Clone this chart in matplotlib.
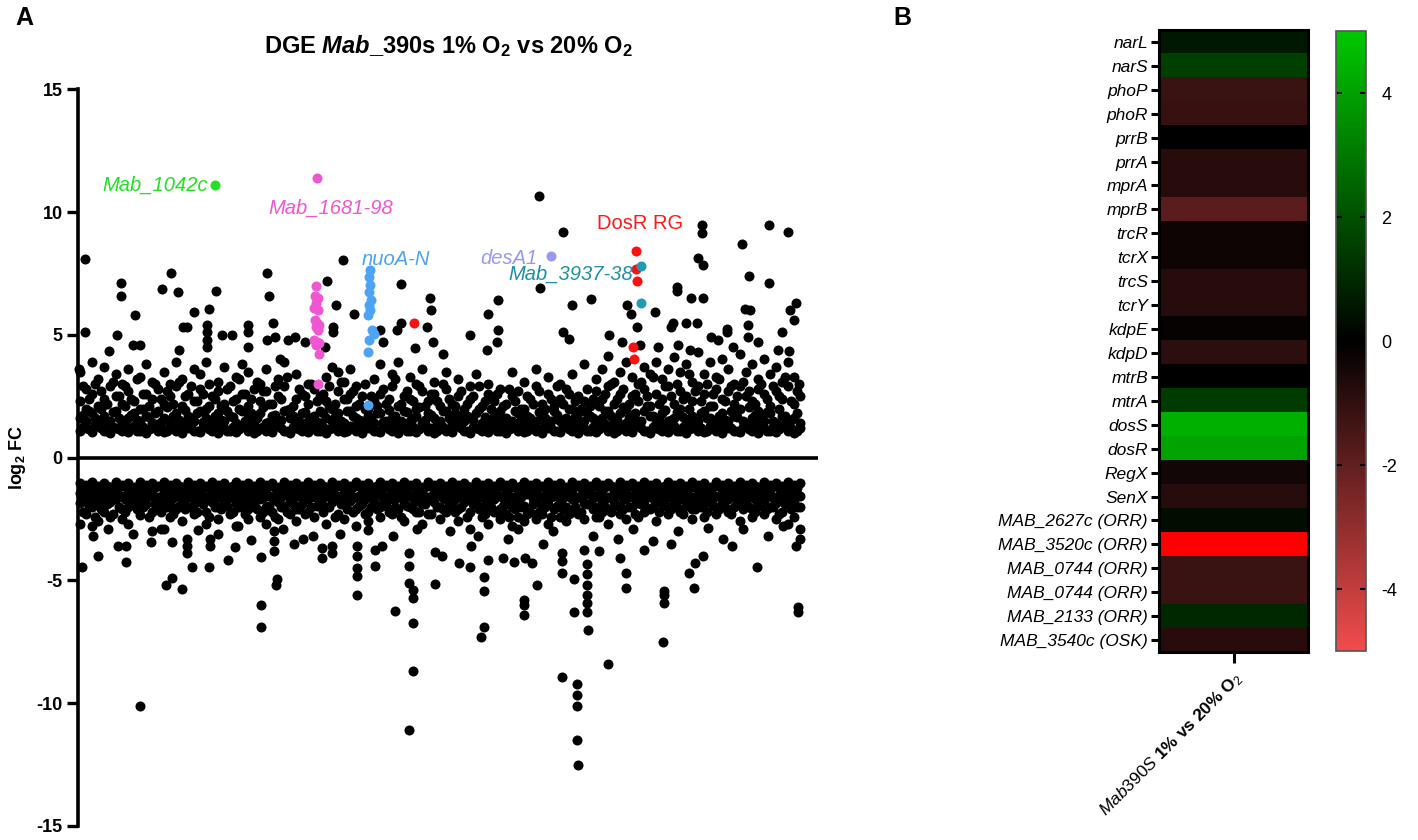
import matplotlib
matplotlib.use("Agg")
import matplotlib.pyplot as plt
from matplotlib.colors import LinearSegmentedColormap
import numpy as np

plt.rcParams['font.family'] = ['Liberation Sans', 'DejaVu Sans']
plt.rcParams['mathtext.fontset'] = 'custom'
plt.rcParams['mathtext.rm'] = 'Liberation Sans'
plt.rcParams['mathtext.it'] = 'Liberation Sans:italic'
plt.rcParams['mathtext.bf'] = 'Liberation Sans:bold'
plt.rcParams['mathtext.bfit'] = 'Liberation Sans:bold:italic'

# ---------------- panel A data (position along genome, log2 FC) ----------------
# dense band of up-regulated genes: (position, [log2FC values])
up_band = [
    (2, [1.1, 1.6, 2.3, 3.5]), (8, [1.2, 1.5, 2.0, 2.8]), (14, [1.05, 1.8, 2.6, 3.9]),
    (20, [1.3, 1.4, 2.1, 3.2]), (26, [1.1, 1.7, 2.4, 3.7]), (32, [1.0, 1.5, 2.9]),
    (38, [1.2, 1.9, 2.5, 3.4]), (44, [1.1, 1.4, 2.2, 3.0]), (50, [1.05, 1.6, 2.7, 3.6]),
    (56, [1.3, 1.8, 2.3]), (62, [1.1, 1.5, 2.0, 3.3]), (68, [1.0, 1.7, 2.6, 3.8]),
    (74, [1.2, 1.4, 2.4, 3.1]), (80, [1.1, 1.9, 2.8]), (86, [1.05, 1.6, 2.2, 3.5]),
    (92, [1.3, 1.5, 2.5, 3.0]), (98, [1.1, 1.8, 2.9, 3.9]), (104, [1.0, 1.4, 2.1, 3.2]),
    (110, [1.2, 1.7, 2.6]), (116, [1.1, 1.5, 2.3, 3.6]), (122, [1.05, 1.9, 2.8, 3.4]),
    (128, [1.3, 1.6, 2.0, 3.9]), (134, [1.1, 1.4, 2.5]), (140, [1.0, 1.8, 2.7, 3.1]),
    (146, [1.2, 1.5, 2.2, 3.7]), (152, [1.1, 1.7, 2.9]), (158, [1.05, 1.4, 2.4, 3.3]),
    (164, [1.3, 1.9, 2.6, 3.8]), (170, [1.1, 1.6, 2.1, 3.5]), (176, [1.0, 1.5, 2.8]),
    (182, [1.2, 1.8, 2.3, 3.0]), (188, [1.1, 1.4, 2.7, 3.6]), (194, [1.05, 1.7, 2.2]),
    (200, [1.3, 1.5, 2.5, 3.2]), (206, [1.1, 1.9, 2.9, 3.9]), (212, [1.0, 1.6, 2.0]),
    (218, [1.2, 1.4, 2.4, 3.4]), (224, [1.1, 1.8, 2.6]), (230, [1.05, 1.5, 2.2, 3.0]),
    (236, [1.3, 1.7, 2.8]), (242, [1.1, 1.4, 1.9, 2.5]), (248, [1.0, 1.6, 2.3, 3.3]),
    (254, [1.2, 1.5, 2.0, 3.7]), (260, [1.1, 1.8, 2.7, 3.5]), (266, [1.05, 1.4, 2.4, 3.1]),
    (272, [1.3, 1.9, 2.6, 3.6]), (278, [1.1, 1.6, 2.1, 2.9]), (284, [1.0, 1.5, 2.5]),
    (290, [1.2, 1.7, 2.0]), (296, [1.1, 1.4, 2.3, 3.2]), (302, [1.05, 1.8, 2.6, 3.8]),
    (308, [1.3, 1.5, 2.2]), (314, [1.1, 1.6, 2.9, 3.4]), (320, [1.0, 1.4, 2.1, 3.9]),
    (326, [1.2, 1.9, 2.5]), (332, [1.1, 1.5, 2.4, 3.3]), (338, [1.05, 1.7, 2.0, 3.0]),
    (344, [1.3, 1.4, 2.7, 3.6]), (350, [1.1, 1.8, 2.3]), (356, [1.0, 1.6, 2.6, 3.1]),
    (362, [1.2, 1.5, 2.1]), (368, [1.1, 1.9, 2.8, 3.5]), (374, [1.05, 1.4, 2.2]),
    (380, [1.3, 1.7, 2.5, 3.2]), (386, [1.1, 1.5, 2.0]), (392, [1.0, 1.6, 2.4, 2.9]),
    (398, [1.2, 1.8, 3.4]), (404, [1.1, 1.4, 2.1]), (410, [1.05, 1.5, 2.6, 3.0]),
    (416, [1.3, 1.7, 2.3]), (422, [1.1, 1.4, 1.9, 2.8]), (428, [1.0, 1.6, 2.2]),
    (434, [1.2, 1.5, 2.5, 3.5]), (440, [1.1, 1.8, 2.7]), (446, [1.05, 1.4, 2.0, 3.1]),
    (452, [1.3, 1.6, 2.4]), (458, [1.1, 1.5, 2.9, 3.6]), (464, [1.0, 1.7, 2.2]),
    (470, [1.2, 1.4, 2.6, 3.3]), (476, [1.1, 1.9, 2.1]), (482, [1.05, 1.5, 2.4, 3.0]),
    (488, [1.3, 1.6, 2.8]), (494, [1.1, 1.4, 2.0, 3.4]), (500, [1.0, 1.8, 2.5]),
    (506, [1.2, 1.5, 2.3, 3.8]), (512, [1.1, 1.7, 2.1]), (518, [1.05, 1.4, 2.7, 3.2]),
    (524, [1.3, 1.6, 2.4, 3.6]), (530, [1.1, 1.9, 2.9]), (536, [1.0, 1.5, 2.2, 3.1]),
    (542, [1.2, 1.8, 2.6, 3.5]), (548, [1.1, 1.4, 2.0, 3.9]), (554, [1.05, 1.6, 2.5, 3.3]),
    (560, [1.3, 1.5, 2.3, 3.0]), (566, [1.1, 1.9, 2.8, 3.7]), (572, [1.0, 1.7, 2.1, 3.4]),
    (578, [1.2, 1.4, 2.6, 3.9]), (584, [1.1, 1.8, 2.4, 3.2]), (590, [1.05, 1.5, 2.9, 3.6]),
    (596, [1.3, 1.6, 2.2, 4.1]), (602, [1.1, 2.0, 2.7, 3.5]), (608, [1.0, 1.4, 2.5, 3.8]),
    (614, [1.2, 1.7, 2.3, 3.1]), (620, [1.1, 1.5, 2.9, 4.3]), (626, [1.05, 1.9, 2.6, 3.4]),
    (632, [1.3, 1.6, 2.1, 3.9]), (638, [1.1, 1.4, 2.8, 3.3]), (644, [1.0, 1.8, 2.4, 4.0]),
    (650, [1.2, 1.5, 2.7, 3.6]), (656, [1.1, 1.7, 2.2, 3.0]), (662, [1.05, 2.0, 2.9, 4.2]),
    (668, [1.3, 1.4, 2.5, 3.5]), (674, [1.1, 1.6, 2.3, 3.8]), (680, [1.0, 1.9, 2.8, 3.2]),
    (686, [1.2, 1.5, 2.6, 4.0]), (692, [1.1, 1.8, 2.1, 3.4]), (698, [1.05, 1.4, 2.7, 3.7]),
    (704, [1.3, 1.7, 2.4, 3.1]), (710, [1.1, 1.5, 2.9, 3.9]), (716, [1.0, 1.6, 2.2, 3.3]),
    (722, [1.2, 1.4, 2.5]),
]

# second row of columns between the first ones (densest part of the band)
up_band2 = [
    (5, [1.25, 1.75, 2.9]), (11, [1.15, 1.9, 2.4]), (17, [1.35, 1.6, 3.0]), (23, [1.2, 2.0, 2.7]),
    (29, [1.1, 1.45, 2.2]), (35, [1.25, 1.85, 3.1]), (41, [1.15, 1.6, 2.5]), (47, [1.35, 2.1, 2.9]),
    (53, [1.2, 1.75, 2.4]), (59, [1.1, 1.55, 3.2]), (65, [1.25, 2.0, 2.6]), (71, [1.15, 1.65, 2.1]),
    (77, [1.35, 1.8, 3.0]), (83, [1.2, 1.45, 2.4]), (89, [1.1, 2.05, 2.7]), (95, [1.25, 1.7, 2.2]),
    (101, [1.15, 1.55, 3.1]), (107, [1.35, 1.95, 2.5]), (113, [1.2, 1.6, 2.9]), (119, [1.1, 1.8, 2.3]),
    (125, [1.25, 1.45, 2.6]), (131, [1.15, 2.1, 3.0]), (137, [1.35, 1.7, 2.4]), (143, [1.2, 1.55, 2.1]),
    (149, [1.1, 1.9, 2.8]), (155, [1.25, 1.65, 2.3]), (161, [1.15, 2.0, 3.2]), (167, [1.35, 1.5, 2.6]),
    (173, [1.2, 1.8, 2.4]), (179, [1.1, 1.6, 3.1]), (185, [1.25, 2.05, 2.7]), (191, [1.15, 1.45, 2.2]),
    (197, [1.35, 1.75, 2.9]), (203, [1.2, 1.55, 2.4]), (209, [1.1, 1.95, 3.3]), (215, [1.25, 1.7, 2.1]),
    (221, [1.15, 1.5, 2.8]), (227, [1.35, 1.85, 2.5]), (233, [1.2, 1.6, 3.0]), (239, [1.1, 1.45, 2.3]),
    (245, [1.25, 1.8, 2.6]), (251, [1.15, 2.1, 2.9]), (257, [1.35, 1.65, 2.2]), (263, [1.2, 1.5, 3.1]),
    (269, [1.1, 1.9, 2.4]), (275, [1.25, 1.7, 2.7]), (281, [1.15, 1.55, 2.2]), (287, [1.35, 2.0, 3.0]),
    (293, [1.2, 1.6, 2.5]), (299, [1.1, 1.8, 2.1]), (305, [1.25, 1.45, 2.8]), (311, [1.15, 1.95, 2.4]),
    (317, [1.35, 1.7, 3.2]), (323, [1.2, 1.5, 2.2]), (329, [1.1, 1.85, 2.7]), (335, [1.25, 1.6, 2.3]),
    (341, [1.15, 2.05, 2.9]), (347, [1.35, 1.55, 2.1]), (353, [1.2, 1.75, 2.6]), (359, [1.1, 1.45, 2.3]),
    (365, [1.25, 1.9, 3.0]), (371, [1.15, 1.6, 2.4]), (377, [1.35, 1.8, 2.1]), (383, [1.2, 1.5, 2.7]),
    (389, [1.1, 1.7, 2.2]), (395, [1.25, 1.55, 2.5]), (401, [1.15, 2.0, 2.9]), (407, [1.35, 1.65, 2.3]),
    (413, [1.2, 1.45, 2.0]), (419, [1.1, 1.8, 2.6]), (425, [1.25, 1.6, 2.1]), (431, [1.15, 1.5, 2.8]),
    (437, [1.35, 1.9, 2.3]), (443, [1.2, 1.55, 2.0]), (449, [1.1, 1.7, 2.5]), (455, [1.25, 1.45, 2.2]),
    (461, [1.15, 1.85, 2.7]), (467, [1.35, 1.6, 2.0]), (473, [1.2, 1.5, 2.4]), (479, [1.1, 1.75, 2.9]),
    (485, [1.25, 1.55, 2.2]), (491, [1.15, 2.0, 2.6]), (497, [1.35, 1.65, 2.3]), (503, [1.2, 1.45, 2.0]),
    (509, [1.1, 1.8, 2.8]), (515, [1.25, 1.6, 2.4]), (521, [1.15, 1.5, 2.1]), (527, [1.35, 1.9, 2.6]),
    (533, [1.2, 1.7, 3.0]), (539, [1.1, 1.55, 2.4]), (545, [1.25, 2.05, 2.8]), (551, [1.15, 1.65, 2.2]),
    (557, [1.35, 1.8, 2.6]), (563, [1.2, 1.5, 3.1]), (569, [1.1, 2.1, 2.5]), (575, [1.25, 1.7, 3.3]),
    (581, [1.15, 1.6, 2.2]), (587, [1.35, 1.95, 2.9]), (593, [1.2, 1.55, 2.5]), (599, [1.1, 1.85, 3.0]),
    (605, [1.25, 1.65, 2.4]), (611, [1.15, 2.0, 3.4]), (617, [1.35, 1.5, 2.7]), (623, [1.2, 1.8, 2.3]),
    (629, [1.1, 1.6, 3.0]), (635, [1.25, 2.1, 2.6]), (641, [1.15, 1.7, 3.2]), (647, [1.35, 1.55, 2.3]),
    (653, [1.2, 1.9, 2.9]), (659, [1.1, 1.65, 2.5]), (665, [1.25, 1.5, 3.1]), (671, [1.15, 2.05, 2.7]),
    (677, [1.35, 1.75, 2.2]), (683, [1.2, 1.6, 3.0]), (689, [1.1, 1.85, 2.4]), (695, [1.25, 1.5, 2.9]),
    (701, [1.15, 2.0, 2.5]), (707, [1.35, 1.7, 3.3]), (713, [1.2, 1.55, 2.3]), (719, [1.1, 1.8, 2.7]),
]

# sparse up-regulated outliers
up_x = [7, 7, 1, 43, 43, 39, 57, 55, 62, 31, 93, 84, 100, 116, 131, 138, 105, 109, 101,
        129, 129, 129, 129, 144, 154, 170, 170, 170, 189, 191, 195, 189, 197, 210, 217,
        202, 227, 249, 258, 265, 276, 255, 255, 247, 323, 323, 319, 302, 305, 352, 353,
        349, 355, 365, 337, 461, 485, 462, 513, 494, 420, 410, 420, 419, 409, 392, 485,
        491, 531, 530, 549, 553, 559, 544, 562, 577, 599, 599, 613, 625, 624, 624, 620,
        625, 664, 671, 691, 710, 691, 667, 672, 718, 712, 716, 704, 711, 595, 608, 619,
        593, 633, 649, 649, 670, 670, 721, 600, 612, 640, 655, 680, 700, 580]
up_y = [8.1, 5.1, 3.6, 7.1, 6.6, 5.0, 5.8, 4.6, 4.6, 4.35, 7.5, 6.85, 6.75, 5.95, 6.05,
        6.8, 5.3, 5.3, 4.4, 5.4, 5.1, 4.8, 4.5, 5.0, 5.0, 5.4, 5.1, 4.5, 7.5, 6.6, 5.5,
        4.8, 4.9, 4.8, 4.9, 4.0, 4.7, 7.2, 6.2, 8.05, 5.85, 5.3, 5.1, 4.5, 7.07, 5.5, 5.2,
        5.2, 4.7, 6.5, 6.0, 5.3, 4.7, 4.2, 4.45, 10.65, 9.2, 6.9, 6.45, 6.2, 6.4, 5.85,
        5.2, 4.7, 4.4, 5.0, 5.1, 4.85, 5.0, 4.15, 6.2, 5.85, 5.3, 4.7, 4.6, 5.95, 6.95,
        6.8, 6.5, 6.5, 9.47, 9.15, 8.15, 7.85, 8.7, 7.4, 9.47, 9.2, 7.1, 6.05, 6.0, 6.3,
        6.0, 5.6, 5.1, 4.35, 5.5, 5.5, 5.5, 5.3, 4.9, 5.25, 5.1, 5.4, 4.9, 3.0, 4.6, 4.4,
        4.8, 4.5, 4.7, 4.4, 4.5]

# dense band of down-regulated genes
down_band = [
    (2, [-1.05, -1.45, -1.85, -2.7]), (8, [-1.1, -1.3, -1.75, -2.3]), (14, [-1.0, -1.5, -2.0, -2.8]),
    (20, [-1.15, -1.4, -1.9, -2.6]), (26, [-1.05, -1.6, -2.2]), (32, [-1.2, -1.45, -1.8, -2.4]),
    (38, [-1.0, -1.35, -1.7]), (44, [-1.1, -1.55, -2.1, -2.5]), (50, [-1.05, -1.4, -2.0, -2.7]),
    (56, [-1.2, -1.6]), (62, [-1.0, -1.3, -1.8, -2.35]), (68, [-1.1, -1.5, -1.9]),
    (74, [-1.05, -1.35, -2.2, -3.0]), (80, [-1.15, -1.6, -2.0]), (86, [-1.0, -1.4, -1.75, -2.9]),
    (92, [-1.1, -1.3, -1.9, -2.4]), (98, [-1.05, -1.5, -2.1]), (104, [-1.2, -1.45, -1.8, -2.6]),
    (110, [-1.0, -1.35, -2.0]), (116, [-1.1, -1.55, -1.9, -2.3]), (122, [-1.05, -1.4, -1.7]),
    (128, [-1.15, -1.6, -2.2, -2.7]), (134, [-1.0, -1.3, -1.8]), (140, [-1.1, -1.5, -2.0, -2.5]),
    (146, [-1.05, -1.45, -1.75]), (152, [-1.2, -1.6, -2.3]), (158, [-1.0, -1.35, -1.9, -2.8]),
    (164, [-1.1, -1.5, -1.85]), (170, [-1.05, -1.4, -2.1, -2.5]), (176, [-1.15, -1.55, -1.9]),
    (182, [-1.0, -1.3, -1.7, -2.4]), (188, [-1.1, -1.45, -2.0, -2.7]), (194, [-1.05, -1.6, -2.2]),
    (200, [-1.2, -1.4, -1.8, -2.5]), (206, [-1.0, -1.5, -1.95]), (212, [-1.1, -1.35, -1.75, -2.3]),
    (218, [-1.05, -1.55, -2.1, -2.6]), (224, [-1.15, -1.45, -1.9]), (230, [-1.0, -1.3, -1.7, -2.2]),
    (236, [-1.1, -1.6, -2.4]), (242, [-1.05, -1.4, -1.85]), (248, [-1.2, -1.5, -2.0, -2.7]),
    (254, [-1.0, -1.35, -1.8]), (260, [-1.1, -1.55, -2.3]), (266, [-1.05, -1.45, -1.9, -2.5]),
    (272, [-1.15, -1.3, -1.75]), (278, [-1.0, -1.6, -2.1, -2.8]), (284, [-1.1, -1.4, -1.9]),
    (290, [-1.05, -1.5, -2.2, -2.6]), (296, [-1.2, -1.35, -1.8]), (302, [-1.0, -1.45, -2.0, -2.4]),
    (308, [-1.1, -1.6, -1.95]), (314, [-1.05, -1.3, -1.7, -2.3]), (320, [-1.15, -1.5, -2.1]),
    (326, [-1.0, -1.4, -1.85, -2.6]), (332, [-1.1, -1.55, -2.0]), (338, [-1.05, -1.35, -1.75, -2.2]),
    (344, [-1.2, -1.45, -1.9, -2.7]), (350, [-1.0, -1.6, -2.3]), (356, [-1.1, -1.4, -1.8]),
    (362, [-1.05, -1.5, -2.0, -2.5]), (368, [-1.15, -1.3, -1.7, -2.2]), (374, [-1.0, -1.45, -1.9]),
    (380, [-1.1, -1.55, -2.1, -2.6]), (386, [-1.05, -1.4, -1.8]), (392, [-1.2, -1.6, -2.2, -2.9]),
    (398, [-1.0, -1.35, -1.75]), (404, [-1.1, -1.5, -2.0, -2.4]), (410, [-1.05, -1.45, -1.9, -2.7]),
    (416, [-1.15, -1.3, -1.7, -2.2]), (422, [-1.0, -1.55, -2.1, -2.5]), (428, [-1.1, -1.4, -1.85, -2.3]),
    (434, [-1.05, -1.6, -2.0, -2.8]), (440, [-1.2, -1.35, -1.8, -2.4]), (446, [-1.0, -1.5, -1.95, -2.6]),
    (452, [-1.1, -1.45, -2.2]), (458, [-1.05, -1.3, -1.75, -2.5]), (464, [-1.15, -1.6, -2.0, -2.3]),
    (470, [-1.0, -1.4, -1.9, -2.7]), (476, [-1.1, -1.55, -2.1]), (482, [-1.05, -1.35, -1.8, -2.4]),
    (488, [-1.2, -1.5, -2.0, -2.6]), (494, [-1.0, -1.45, -1.7, -2.2]), (500, [-1.1, -1.6, -2.3]),
    (506, [-1.05, -1.3, -1.85, -2.5]), (512, [-1.15, -1.4, -1.9]), (518, [-1.0, -1.55, -2.0, -2.4]),
    (524, [-1.1, -1.45, -1.75, -2.2]), (530, [-1.05, -1.6, -2.1, -2.7]), (536, [-1.2, -1.35, -1.8]),
    (542, [-1.0, -1.5, -1.95, -2.3]), (548, [-1.1, -1.4, -1.7, -2.5]), (554, [-1.05, -1.55, -2.0]),
    (560, [-1.15, -1.3, -1.85, -2.4]), (566, [-1.0, -1.45, -1.9, -2.2]), (572, [-1.1, -1.6, -2.1]),
    (578, [-1.05, -1.35, -1.75, -2.6]), (584, [-1.2, -1.5, -1.9]), (590, [-1.0, -1.4, -2.0, -2.3]),
    (596, [-1.1, -1.55, -1.8]), (602, [-1.05, -1.3, -1.7, -2.2]), (608, [-1.15, -1.45, -1.95]),
    (614, [-1.0, -1.6, -2.1, -2.5]), (620, [-1.1, -1.35, -1.8]), (626, [-1.05, -1.5, -1.9, -2.4]),
    (632, [-1.2, -1.4, -1.75]), (638, [-1.0, -1.55, -2.0, -2.3]), (644, [-1.1, -1.45, -1.85]),
    (650, [-1.05, -1.3, -1.7, -2.2]), (656, [-1.15, -1.6, -2.0]), (662, [-1.0, -1.4, -1.9, -2.6]),
    (668, [-1.1, -1.5, -1.8]), (674, [-1.05, -1.35, -2.1, -2.4]), (680, [-1.2, -1.55, -1.9]),
    (686, [-1.0, -1.45, -1.75, -2.3]), (692, [-1.1, -1.3, -2.0]), (698, [-1.05, -1.6, -1.85, -2.5]),
    (704, [-1.15, -1.4, -2.2]), (710, [-1.0, -1.5, -1.9, -2.7]), (716, [-1.1, -1.35, -1.8, -2.4]),
    (722, [-1.05, -1.55, -2.0, -2.9]),
]

down_band2 = [
    (5, [-1.2, -1.6, -2.2]), (11, [-1.15, -1.55, -1.95]), (17, [-1.25, -1.7, -2.4]), (23, [-1.2, -1.6, -2.1]),
    (29, [-1.15, -1.5, -1.9]), (35, [-1.25, -1.65, -2.3]), (41, [-1.2, -1.55, -2.0]), (47, [-1.15, -1.7, -2.2]),
    (53, [-1.25, -1.6, -1.85]), (59, [-1.2, -1.5, -2.1]), (65, [-1.15, -1.65, -2.0]), (71, [-1.25, -1.55, -2.4]),
    (77, [-1.2, -1.7, -1.9]), (83, [-1.15, -1.6, -2.2]), (89, [-1.25, -1.5, -2.0]), (95, [-1.2, -1.65, -2.3]),
    (101, [-1.15, -1.55, -1.95]), (107, [-1.25, -1.7, -2.1]), (113, [-1.2, -1.6, -2.0]), (119, [-1.15, -1.5, -2.2]),
    (125, [-1.25, -1.65, -1.9]), (131, [-1.2, -1.55, -2.4]), (137, [-1.15, -1.7, -2.0]), (143, [-1.25, -1.6, -2.1]),
    (149, [-1.2, -1.5, -1.95]), (155, [-1.15, -1.65, -2.2]), (161, [-1.25, -1.55, -2.0]), (167, [-1.2, -1.7, -2.3]),
    (173, [-1.15, -1.6, -1.9]), (179, [-1.25, -1.5, -2.1]), (185, [-1.2, -1.65, -2.2]), (191, [-1.15, -1.55, -1.95]),
    (197, [-1.25, -1.7, -2.4]), (203, [-1.2, -1.6, -2.0]), (209, [-1.15, -1.5, -2.2]), (215, [-1.25, -1.65, -1.9]),
    (221, [-1.2, -1.55, -2.1]), (227, [-1.15, -1.7, -2.3]), (233, [-1.25, -1.6, -2.0]), (239, [-1.2, -1.5, -1.95]),
    (245, [-1.15, -1.65, -2.2]), (251, [-1.25, -1.55, -2.0]), (257, [-1.2, -1.7, -2.4]), (263, [-1.15, -1.6, -1.9]),
    (269, [-1.25, -1.5, -2.1]), (275, [-1.2, -1.65, -2.2]), (281, [-1.15, -1.55, -1.95]), (287, [-1.25, -1.7, -2.3]),
    (293, [-1.2, -1.6, -2.0]), (299, [-1.15, -1.5, -2.1]), (305, [-1.25, -1.65, -1.9]), (311, [-1.2, -1.55, -2.2]),
    (317, [-1.15, -1.7, -2.0]), (323, [-1.25, -1.6, -2.4]), (329, [-1.2, -1.5, -1.95]), (335, [-1.15, -1.65, -2.1]),
    (341, [-1.25, -1.55, -2.2]), (347, [-1.2, -1.7, -1.9]), (353, [-1.15, -1.6, -2.3]), (359, [-1.25, -1.5, -2.0]),
    (365, [-1.2, -1.65, -2.1]), (371, [-1.15, -1.55, -1.95]), (377, [-1.25, -1.7, -2.2]), (383, [-1.2, -1.6, -2.0]),
    (389, [-1.15, -1.5, -2.4]), (395, [-1.25, -1.65, -1.9]), (401, [-1.2, -1.55, -2.1]), (407, [-1.15, -1.7, -2.3]),
    (413, [-1.25, -1.6, -2.0]), (419, [-1.2, -1.5, -2.2]), (425, [-1.15, -1.65, -1.95]), (431, [-1.25, -1.55, -2.4]),
    (437, [-1.2, -1.7, -2.1]), (443, [-1.15, -1.6, -2.0]), (449, [-1.25, -1.5, -2.3]), (455, [-1.2, -1.65, -1.9]),
    (461, [-1.15, -1.55, -2.2]), (467, [-1.25, -1.7, -2.0]), (473, [-1.2, -1.6, -2.4]), (479, [-1.15, -1.5, -1.95]),
    (485, [-1.25, -1.65, -2.1]), (491, [-1.2, -1.55, -2.3]), (497, [-1.15, -1.7, -2.0]), (503, [-1.25, -1.6, -2.2]),
    (509, [-1.2, -1.5, -1.9]), (515, [-1.15, -1.65, -2.1]), (521, [-1.25, -1.55, -2.4]), (527, [-1.2, -1.7, -2.0]),
    (533, [-1.15, -1.6, -2.2]), (539, [-1.25, -1.5, -1.95]), (545, [-1.2, -1.65, -2.1]), (551, [-1.15, -1.55, -2.0]),
    (557, [-1.25, -1.7, -2.3]), (563, [-1.2, -1.6, -1.9]), (569, [-1.15, -1.5, -2.1]), (575, [-1.25, -1.65, -2.0]),
    (581, [-1.2, -1.55, -2.2]), (587, [-1.15, -1.7, -1.95]), (593, [-1.25, -1.6, -2.1]), (599, [-1.2, -1.5, -2.0]),
    (605, [-1.15, -1.65, -2.3]), (611, [-1.25, -1.55, -1.9]), (617, [-1.2, -1.7, -2.1]), (623, [-1.15, -1.6, -2.0]),
    (629, [-1.25, -1.5, -2.2]), (635, [-1.2, -1.65, -1.95]), (641, [-1.15, -1.55, -2.1]), (647, [-1.25, -1.7, -2.0]),
    (653, [-1.2, -1.6, -2.3]), (659, [-1.15, -1.5, -1.9]), (665, [-1.25, -1.65, -2.1]), (671, [-1.2, -1.55, -2.0]),
    (677, [-1.15, -1.7, -2.2]), (683, [-1.25, -1.6, -1.95]), (689, [-1.2, -1.5, -2.1]), (695, [-1.15, -1.65, -2.0]),
    (701, [-1.25, -1.55, -2.3]), (707, [-1.2, -1.7, -1.9]), (713, [-1.15, -1.6, -2.1]), (719, [-1.25, -1.5, -2.0]),
]

# sparse down-regulated outliers
down_x = [4, 20, 15, 40, 48, 48, 62, 88, 94, 104, 73, 94, 114, 131, 109, 109, 109, 132, 132,
          150, 157, 173, 183, 183, 183, 199, 198, 196, 196, 196, 216, 235, 244, 244, 254, 254,
          279, 279, 279, 279, 279, 297, 297, 304, 317, 331, 335, 335, 335, 335, 331, 331, 331,
          339, 357, 357, 364, 381, 392, 393, 406, 406, 406, 403, 410, 425, 436, 447, 454, 446,
          446, 446, 459, 484, 484, 484, 484, 496, 496, 499, 499, 499, 499, 500, 509, 509, 509,
          509, 509, 509, 510, 506, 521, 530, 542, 548, 548, 566, 586, 586, 586, 585, 593, 611,
          617, 625, 616, 679, 720, 720, 654, 718,
          30, 55, 83, 120, 140, 160, 205, 225, 262, 290, 315, 372, 400, 430, 440, 465, 475,
          515, 540, 555, 575, 600, 630, 645, 665, 690, 705, 722]
down_y = [-4.47, -4.0, -3.2, -3.6, -3.6, -4.25, -10.1, -5.2, -4.9, -5.35, -3.45, -3.45, -4.45,
          -4.45, -3.3, -3.6, -3.9, -3.3, -3.6, -4.15, -3.65, -3.35, -4.05, -6.0, -6.9, -4.95,
          -5.2, -3.0, -3.4, -3.8, -3.5, -3.2, -3.7, -4.1, -3.6, -3.9, -3.6, -4.0, -4.5, -4.8,
          -5.6, -3.75, -4.4, -3.6, -6.25, -11.1, -8.7, -6.75, -5.7, -5.4, -5.1, -4.4, -3.9,
          -2.9, -5.15, -3.85, -4.0, -4.3, -4.45, -3.6, -4.85, -5.45, -6.9, -7.3, -4.15, -4.1,
          -4.25, -4.1, -4.3, -5.8, -6.0, -6.4, -5.2, -3.9, -4.2, -4.7, -8.95, -4.95, -6.3,
          -9.2, -9.65, -10.1, -11.5, -12.5, -4.35, -4.75, -5.2, -5.6, -5.9, -6.3, -7.0, -3.75,
          -3.8, -8.4, -4.1, -4.7, -5.3, -3.75, -5.45, -5.6, -5.9, -7.5, -3.5, -4.7, -4.3,
          -4.0, -5.3, -4.45, -6.1, -6.3, -3.6, -3.6,
          -2.9, -3.1, -2.9, -2.95, -3.1, -2.8, -2.9, -3.3, -3.1, -2.95, -3.2, -3.0, -3.2,
          -3.3, -2.9, -3.5, -3.0, -3.2, -3.3, -2.9, -3.4, -3.0, -2.85, -3.3, -2.9, -3.2,
          -2.8, -3.3]

# highlighted gene groups
mab1681_x = [239, 238, 237, 240, 238, 236, 240, 237, 239, 241, 238, 240, 236, 239, 241, 238, 241, 240]
mab1681_y = [11.4, 7.0, 6.6, 6.5, 6.3, 6.1, 6.0, 5.6, 5.5, 5.4, 5.3, 5.2, 4.8, 4.7, 4.65, 4.6, 4.2, 3.0]
nuo_x = [292, 291, 292, 291, 293, 291, 292, 290, 294, 296, 291, 290, 290]
nuo_y = [7.65, 7.35, 7.05, 6.75, 6.4, 6.2, 6.0, 5.8, 5.2, 5.05, 4.8, 4.3, 2.15]
dosr_x = [558, 558, 559, 555, 556, 336]
dosr_y = [8.4, 7.7, 7.2, 4.5, 4.0, 5.5]
mab3937_x = [563, 563]
mab3937_y = [7.8, 6.3]
desa1_x = [473]
desa1_y = [8.2]
mab1042_x = [137]
mab1042_y = [11.1]

# ---------------- panel B data ----------------
genes = ['narL', 'narS', 'phoP', 'phoR', 'prrB', 'prrA', 'mprA', 'mprB', 'trcR', 'tcrX',
         'trcS', 'tcrY', 'kdpE', 'kdpD', 'mtrB', 'mtrA', 'dosS', 'dosR', 'RegX', 'SenX',
         'MAB_2627c (ORR)', 'MAB_3520c (ORR)', 'MAB_0744 (ORR)', 'MAB_0744 (ORR)',
         'MAB_2133 (ORR)', 'MAB_3540c (OSK)']
log2fc_heat = [0.6, 1.6, -1.2, -1.15, 0.0, -0.85, -0.85, -1.85, -0.3, -0.3,
               -0.8, -0.8, -0.15, -0.9, 0.0, 1.5, 4.4, 4.1, -0.4, -0.8,
               0.35, -6.0, -1.2, -1.2, 1.0, -0.85]

# ---------------- figure ----------------
fig = plt.figure(figsize=(14.18, 8.4), dpi=100)

ax = fig.add_axes([0.055, 0.0167, 0.522, 0.877])
ms = 52

bands = up_band + up_band2 + down_band + down_band2
bx = [x for x, ys in bands for _ in ys]
by = [y for _, ys in bands for y in ys]
ax.scatter(bx, by, s=ms, c='black', linewidths=0, clip_on=False, zorder=2)
ax.scatter(up_x, up_y, s=ms, c='black', linewidths=0, clip_on=False, zorder=2)
ax.scatter(down_x, down_y, s=ms, c='black', linewidths=0, clip_on=False, zorder=2)

ax.scatter(mab1681_x, mab1681_y, s=ms, c='#f055d2', linewidths=0, zorder=3)
ax.scatter(nuo_x, nuo_y, s=ms, c='#4ea3f5', linewidths=0, zorder=3)
ax.scatter(dosr_x, dosr_y, s=ms, c='#ff1010', linewidths=0, zorder=3)
ax.scatter(mab3937_x, mab3937_y, s=ms, c='#1f9bb5', linewidths=0, zorder=3)
ax.scatter(desa1_x, desa1_y, s=ms, c='#9a98f5', linewidths=0, zorder=3)
ax.scatter(mab1042_x, mab1042_y, s=ms, c='#22e022', linewidths=0, zorder=3)

lab = dict(fontsize=14.5, style='italic')
ax.text(130, 11.1, 'Mab_1042c', color='#22e022', ha='right', va='center', **lab)
ax.text(253, 10.15, 'Mab_1681-98', color='#f055d2', ha='center', va='center', **lab)
ax.text(284, 8.05, 'nuoA-N', color='#4ea3f5', ha='left', va='center', **lab)
ax.text(402, 8.1, 'desA1', color='#9a98f5', ha='left', va='center', **lab)
ax.text(555, 7.45, 'Mab_3937-38', color='#1f8fa5', ha='right', va='center', **lab)
ax.text(519, 9.55, 'DosR RG', color='#ff1a1a', ha='left', va='center', fontsize=14.5)

ax.axhline(0, color='black', lw=2.6, zorder=1)
ax.set_xlim(0, 740)
ax.set_ylim(-15, 15)
ax.set_yticks([-15, -10, -5, 0, 5, 10, 15])
ax.set_yticklabels(['-15', '-10', '-5', '0', '5', '10', '15'], fontweight='bold', fontsize=13)
ax.set_xticks([])
for s in ['top', 'right', 'bottom']:
    ax.spines[s].set_visible(False)
ax.spines['left'].set_linewidth(2.6)
ax.tick_params(axis='y', length=8, width=2.4, pad=3)
ax.set_ylabel(r'log$_\mathbf{2}$ FC', fontweight='bold', fontsize=13, labelpad=6)
ax.set_title(r'DGE $\mathbfit{Mab}$_390s 1% O$_\mathbf{2}$ vs 20% O$_\mathbf{2}$',
             fontweight='bold', fontsize=17, pad=26)

fig.text(0.011, 0.993, 'A', fontsize=18, fontweight='bold', va='top')
fig.text(0.630, 0.993, 'B', fontsize=18, fontweight='bold', va='top')

# ---------------- heatmap ----------------
cmap = LinearSegmentedColormap.from_list('rg', [(0.0, '#f24c4c'), (0.5, '#000000'), (1.0, '#00c800')])
cmap.set_under('#ff0000')
cmap.set_over('#00ff00')

hax = fig.add_axes([0.8174, 0.2238, 0.1051, 0.7405])
im = hax.imshow(np.array(log2fc_heat).reshape(-1, 1), cmap=cmap, vmin=-5, vmax=5,
                aspect='auto', interpolation='nearest')
hax.set_yticks(range(len(genes)))
hax.set_yticklabels(genes, fontsize=12.5, style='italic')
hax.set_xticks([0])
hax.set_xticklabels([r'$\mathit{Mab390S}$ $\mathbf{1\%\ vs\ 20\%\ O}_2$'], rotation=45,
                    ha='right', rotation_mode='anchor', fontsize=12.5)
hax.tick_params(axis='y', length=6, width=2.2, pad=2)
hax.tick_params(axis='x', length=8, width=2.2, pad=4)
for s in hax.spines.values():
    s.set_linewidth(2.2)

cax = fig.add_axes([0.9422, 0.225, 0.0212, 0.738])
cb = fig.colorbar(im, cax=cax, ticks=[-4, -2, 0, 2, 4])
cb.ax.set_yticklabels(['-4', '-2', '0', '2', '4'], fontsize=13)
cb.ax.tick_params(direction='in', length=4, width=1.5, left=True, right=True, pad=11)
cb.outline.set_edgecolor('#555555')
cb.outline.set_linewidth(1.2)

fig.savefig('out.png', dpi=100)
